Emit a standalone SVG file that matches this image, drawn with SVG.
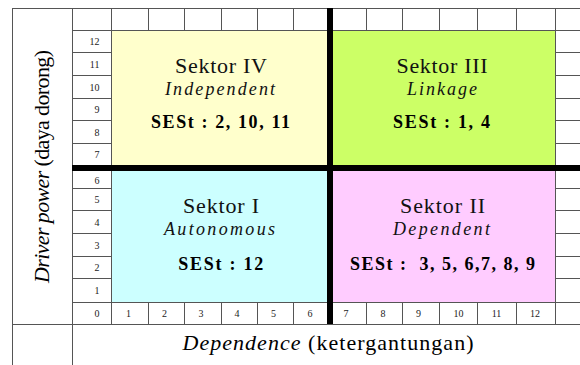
<svg xmlns="http://www.w3.org/2000/svg" width="580" height="365" viewBox="0 0 580 365" font-family="Liberation Serif, serif">
<style>
.g{stroke:#555;stroke-width:1;fill:none}
.thick{stroke:#000;stroke-width:6}
.num{font-size:10px;fill:#222}
.nx{text-anchor:middle}
.ny{text-anchor:end}
.sek{font-size:22px;fill:#111;text-anchor:middle}
.sub{font-size:18px;font-style:italic;fill:#111;text-anchor:middle}
.ses{font-size:18px;font-weight:bold;fill:#000;text-anchor:middle}
.ax{font-size:22px;fill:#000;text-anchor:middle}
</style>
<rect x="0" y="0" width="580" height="365" fill="#fff"/>
<g id="grid">
<path class="g" d="M12.5 8V365M12 8.5H580M72.5 8V365M111.5 8V324M12 324.5H580M72 302.5H580M72 30.5H580
M72 52.5H580M72 75.5H580M72 98.5H580M72 120.5H580M72 143.5H580
M72 188.5H580M72 210.5H580M72 233.5H580M72 256.5H580M72 278.5H580
M148.5 8V324M184.5 8V324M221.5 8V324M257.5 8V324M293.5 8V324M366.5 8V324M402.5 8V324M439.5 8V324M477.5 8V324M516.5 8V324M555.5 8V324"/>
</g>
<g id="sektor-iv">
<rect x="112" y="31" width="215" height="134" fill="#ffffcc"/>
<text class="sek" x="221" y="73" textLength="92">Sektor IV</text>
<text class="sub" x="220" y="95" textLength="110">Independent</text>
<text class="ses" x="220.5" y="128" textLength="139">SESt : 2, 10, 11</text>
</g>
<g id="sektor-iii">
<rect x="333" y="31" width="222" height="134" fill="#ccff66"/>
<text class="sek" x="442" y="73" textLength="91">Sektor III</text>
<text class="sub" x="442" y="95" textLength="70">Linkage</text>
<text class="ses" x="441.5" y="128" textLength="97">SESt : 1, 4</text>
</g>
<g id="sektor-i">
<rect x="112" y="171" width="215" height="131" fill="#ccffff"/>
<text class="sek" x="221" y="213" textLength="76">Sektor I</text>
<text class="sub" x="219.5" y="235" textLength="111">Autonomous</text>
<text class="ses" x="220.7" y="270" textLength="85">SESt : 12</text>
</g>
<g id="sektor-ii">
<rect x="333" y="171" width="222" height="131" fill="#ffccff"/>
<text class="sek" x="442.5" y="213" textLength="85">Sektor II</text>
<text class="sub" x="441.5" y="235" textLength="97">Dependent</text>
<text class="ses" x="442.5" y="270" textLength="185" xml:space="preserve">SESt :  3, 5, 6,7, 8, 9</text>
</g>
<g id="dividers">
<line class="thick" x1="330" y1="8" x2="330" y2="324"/>
<line class="thick" x1="72" y1="168" x2="580" y2="168"/>
</g>
<g id="y-scale">
<text class="num ny" x="99.5" y="45">12</text>
<text class="num ny" x="99.5" y="67.5">11</text>
<text class="num ny" x="99.5" y="90.5">10</text>
<text class="num ny" x="99.5" y="113">9</text>
<text class="num ny" x="99.5" y="135.5">8</text>
<text class="num ny" x="99.5" y="158">7</text>
<text class="num ny" x="99.5" y="183.5">6</text>
<text class="num ny" x="99.5" y="203">5</text>
<text class="num ny" x="99.5" y="225.5">4</text>
<text class="num ny" x="99.5" y="248.5">3</text>
<text class="num ny" x="99.5" y="271">2</text>
<text class="num ny" x="99.5" y="294">1</text>
<text class="num ny" x="99.5" y="316.5">0</text>
</g>
<g id="x-scale">
<text class="num nx" x="128.5" y="316.5">1</text>
<text class="num nx" x="164.5" y="316.5">2</text>
<text class="num nx" x="201" y="316.5">3</text>
<text class="num nx" x="237" y="316.5">4</text>
<text class="num nx" x="273.5" y="316.5">5</text>
<text class="num nx" x="310" y="316.5">6</text>
<text class="num nx" x="346" y="316.5">7</text>
<text class="num nx" x="383" y="316.5">8</text>
<text class="num nx" x="418.5" y="316.5">9</text>
<text class="num nx" x="458.5" y="316.5">10</text>
<text class="num nx" x="496.5" y="316.5">11</text>
<text class="num nx" x="535" y="316.5">12</text>
</g>
<g id="y-axis-label">
<text class="ax" transform="translate(49,166.5) rotate(-90)" textLength="233"><tspan font-style="italic">Driver power</tspan> (daya dorong)</text>
</g>
<g id="x-axis-label">
<text class="ax" x="328" y="350" textLength="291"><tspan font-style="italic">Dependence</tspan> (ketergantungan)</text>
</g>
</svg>
